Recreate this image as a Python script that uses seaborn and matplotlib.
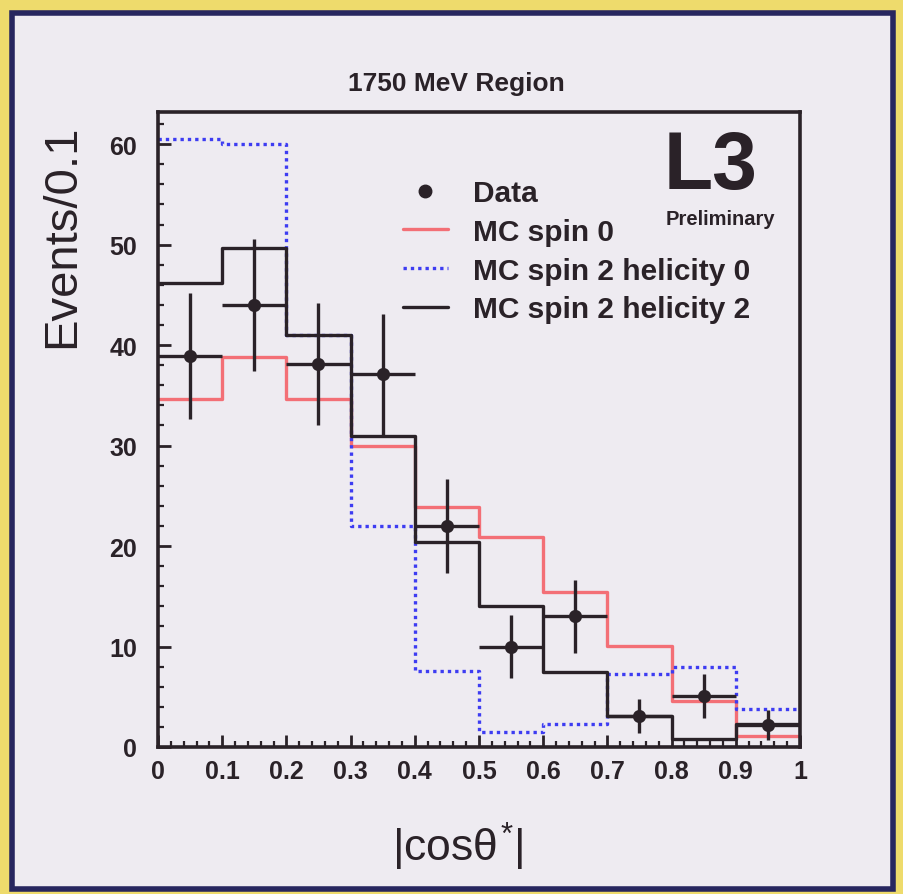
import numpy as np
import pandas as pd
import seaborn as sns
import matplotlib
matplotlib.use("Agg")
import matplotlib.pyplot as plt
from matplotlib.lines import Line2D
from matplotlib.patches import Rectangle
from matplotlib.ticker import MultipleLocator

# ---- data ----
bin_edges = [0.0, 0.1, 0.2, 0.3, 0.4, 0.5, 0.6, 0.7, 0.8, 0.9, 1.0]
bin_centers = [0.05, 0.15, 0.25, 0.35, 0.45, 0.55, 0.65, 0.75, 0.85, 0.95]
mc_spin0 = [34.6, 38.8, 34.6, 30.0, 23.9, 20.9, 15.4, 10.1, 4.6, 1.1]
mc_spin2_h0 = [60.5, 60.0, 41.0, 22.0, 7.6, 1.5, 2.3, 7.3, 8.0, 3.8]
mc_spin2_h2 = [46.2, 49.7, 41.0, 31.0, 20.4, 14.0, 7.5, 3.1, 0.8, 2.3]
data_vals = [38.9, 44.0, 38.1, 37.1, 22.0, 10.0, 13.0, 3.1, 5.1, 2.2]
data_errs = [6.3, 6.6, 6.1, 6.0, 4.7, 3.1, 3.6, 1.7, 2.2, 1.5]
xerr_half = [0.05] * 10

x_tick_labels = ["0", "0.1", "0.2", "0.3", "0.4", "0.5", "0.6", "0.7", "0.8", "0.9", "1"]
labels = ["Data", "MC spin 0", "MC spin 2 helicity 0", "MC spin 2 helicity 2"]

sns.set_theme(style="ticks")
plt.rcParams['font.family'] = ['Liberation Sans', 'DejaVu Sans']
plt.rcParams['mathtext.fontset'] = 'custom'
plt.rcParams['mathtext.rm'] = 'Liberation Sans'
plt.rcParams['mathtext.it'] = 'Liberation Sans'

YELLOW = "#eedb6c"
NAVY = "#27265f"
INNER = "#eeebf1"
RED = "#f36f76"
BLUE = "#3d3cf2"
BLACK = "#2a2228"

W, H = 904, 895
fig = plt.figure(figsize=(W / 100, H / 100), dpi=100)
fig.patch.set_facecolor(YELLOW)
fig.patches.append(Rectangle((12 / W, 5 / H), 881 / W, 876 / H, transform=fig.transFigure,
                             facecolor=INNER, edgecolor=NAVY, linewidth=4, zorder=-5))

ax = fig.add_axes([158 / W, 1 - 748 / H, 642 / W, 635 / H])
ax.set_zorder(2)
ax.set_facecolor(INNER)

df = pd.DataFrame({"x": bin_centers, "s0": mc_spin0, "h0": mc_spin2_h0, "h2": mc_spin2_h2})
sns.histplot(data=df, x="x", weights="s0", bins=bin_edges, element="step", fill=False,
             color=RED, linewidth=2.4, ax=ax)
sns.histplot(data=df, x="x", weights="h0", bins=bin_edges, element="step", fill=False,
             color=BLUE, linewidth=2.4, linestyle=(0, (1, 1.2)), ax=ax)
sns.histplot(data=df, x="x", weights="h2", bins=bin_edges, element="step", fill=False,
             color=BLACK, linewidth=2.4, ax=ax)

ax.errorbar(bin_centers, data_vals, xerr=xerr_half, yerr=data_errs, fmt="none",
            ecolor=BLACK, elinewidth=2.4, capsize=0, zorder=5)
sns.scatterplot(x=bin_centers, y=data_vals, color=BLACK, s=90, edgecolor=BLACK,
                linewidth=0, ax=ax, zorder=6)

ax.set_xlim(0, 1)
ax.set_ylim(0, 63.2)
ax.xaxis.set_major_locator(MultipleLocator(0.1))
ax.xaxis.set_minor_locator(MultipleLocator(0.02))
ax.yaxis.set_major_locator(MultipleLocator(10))
ax.yaxis.set_minor_locator(MultipleLocator(2))
ax.set_xticks(bin_edges)
ax.set_xticklabels(x_tick_labels)
ax.tick_params(axis="both", which="major", direction="in", length=9, width=2, color=BLACK,
               labelsize=18, labelcolor=BLACK)
ax.tick_params(axis="both", which="minor", direction="in", length=4.5, width=1.6, color=BLACK)
ax.tick_params(axis="x", which="major", pad=9)
ax.tick_params(axis="y", which="major", pad=15)
for lab in ax.get_xticklabels() + ax.get_yticklabels():
    lab.set_fontweight("bold")
for sp in ax.spines.values():
    sp.set_linewidth(2.6)
    sp.set_color(BLACK)
    sp.set_visible(True)

ax.set_xlabel("")
ax.set_ylabel("")
fig.text(62 / W, 1 - 125 / H, "Events/0.1", rotation=90, ha="center", va="top",
         fontsize=34, color=BLACK)
fig.text(458 / W, 1 - 847 / H, r"$|\mathrm{cos}\theta^{*}|$", ha="center", va="center",
         fontsize=32, color=BLACK)
fig.text(456 / W, 1 - 84 / H, "1750 MeV Region", ha="center", va="center",
         fontsize=19, fontweight="bold", color=BLACK)

# L3 logo
ax.text((711 - 158) / 642, (748 - 189) / 635, "L3", transform=ax.transAxes,
        ha="center", va="baseline", fontsize=58, fontweight="bold", color=BLACK)
ax.text((720 - 158) / 642, (748 - 225) / 635, "Preliminary", transform=ax.transAxes,
        ha="center", va="baseline", fontsize=14.5, fontweight="bold", color=BLACK)

handles = [
    Line2D([], [], linestyle="none", marker="o", markersize=9, color=BLACK),
    Line2D([], [], color=RED, linewidth=2.4),
    Line2D([], [], color=BLUE, linewidth=2.4, linestyle=(0, (1, 1.2))),
    Line2D([], [], color=BLACK, linewidth=2.4),
]
leg = ax.legend(handles, labels, loc="upper left", bbox_to_anchor=((403 - 158) / 642, (748 - 180) / 635),
                frameon=False, fontsize=21.5, handlelength=1.5, handletextpad=0.85,
                labelspacing=0.36, borderpad=0, borderaxespad=0)
for t in leg.get_texts():
    t.set_fontweight("bold")
    t.set_color(BLACK)

fig.savefig("out.png", dpi=100, facecolor=fig.get_facecolor())
